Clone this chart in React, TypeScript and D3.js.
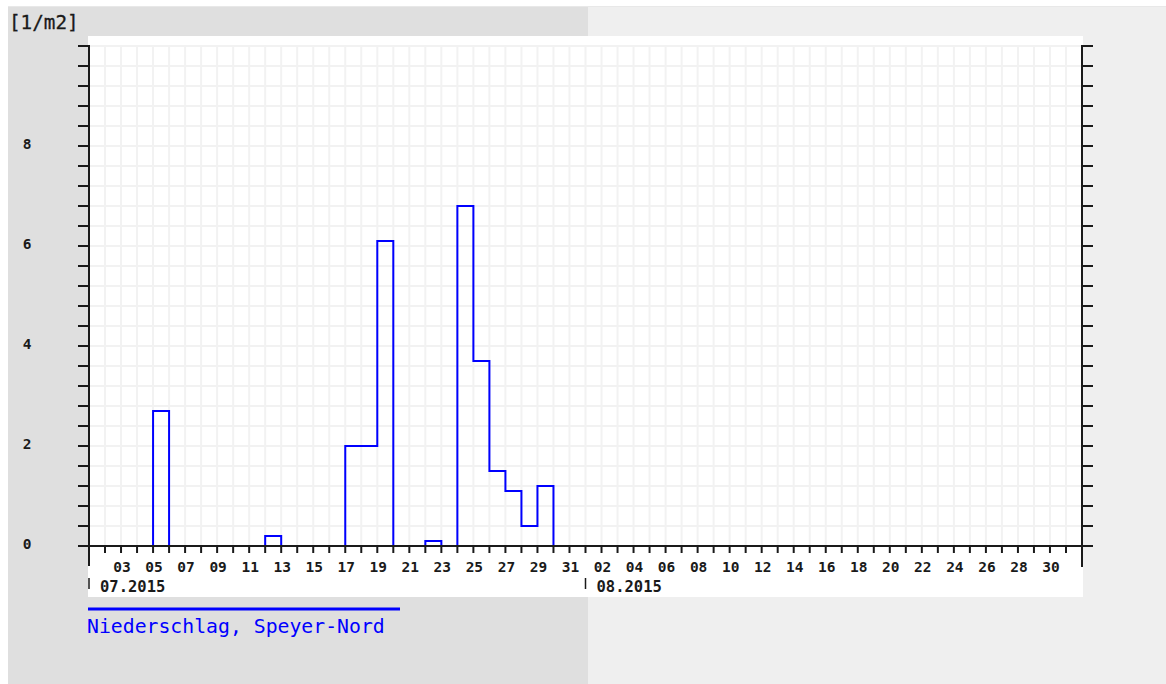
import React from "react";
import * as d3 from "d3";

const startDate = "2015-07-01";
const endDate = "2015-09-01";
const dataStart = "2015-07-01";
const rainValues = [
  0, 0, 0, 0, 2.7, 0, 0, 0, 0, 0, 0, 0.2, 0, 0, 0, 0,
  2.0, 2.0, 6.1, 0, 0, 0.1, 0, 6.8, 3.7, 1.5, 1.1, 0.4, 1.2, 0, 0,
  0, 0, 0,
];
const yLabelValues = [0, 2, 4, 6, 8];
const monthLabels = [
  { date: "2015-07-01", label: "07.2015" },
  { date: "2015-08-01", label: "08.2015" },
];
const unitLabel = "[1/m2]";
const seriesLabel = "Niederschlag, Speyer-Nord";

const W = 1166;
const H = 684;
const PL = 89, PR = 1082, PT = 46, PB = 546;
const MONO = "'DejaVu Sans Mono', 'Liberation Mono', monospace";
const DAY = 86400000;

export default function App() {
  const x = d3.scaleUtc().domain([new Date(startDate), new Date(endDate)]).range([PL, PR]);
  const y = d3.scaleLinear().domain([0, 10]).range([PB, PT]);

  const days = d3.utcDay.range(new Date(startDate), new Date(endDate));
  const allDays = d3.utcDay.range(new Date(startDate), d3.utcDay.offset(new Date(endDate), 1));
  const yTicks = d3.range(0, 25.5, 1).map((i) => i * 0.4);

  const d0 = new Date(dataStart).getTime();
  const pts: [number, number][] = rainValues.map((v, i) => [x(new Date(d0 + i * DAY)), y(v)]);
  pts.push([x(new Date(d0 + rainValues.length * DAY)), y(rainValues[rainValues.length - 1])]);
  const path = d3.line().curve(d3.curveStepAfter)(pts) || "";

  const labelDays = days.filter((d) => {
    const m = d.getUTCMonth();
    const dd = d.getUTCDate();
    if (m === 6) return dd % 2 === 1 && dd > 1;
    return dd % 2 === 0;
  });

  return (
    <svg width={W} height={H} style={{ position: "absolute", left: 0, top: 0 }}>
      <rect x={0} y={0} width={W} height={H} fill="#ffffff" />
      <rect x={8} y={6} width={W - 8} height={H - 6} fill="#e8e8e8" />
      <rect x={8} y={7} width={580} height={H - 7} fill="#dfdfdf" />
      <rect x={588} y={7} width={W - 588} height={H - 7} fill="#efefef" />
      <rect x={88} y={36} width={995} height={561} fill="#ffffff" />

      {/* grid */}
      <g stroke="#f2f2f2" strokeWidth={2}>
        {allDays.slice(1, -1).map((d, i) => (
          <line key={"gv" + i} x1={x(d)} x2={x(d)} y1={PT} y2={PB} />
        ))}
        {yTicks.slice(1).map((t, i) => (
          <line key={"gh" + i} x1={PL} x2={PR} y1={y(t)} y2={y(t)} />
        ))}
      </g>

      {/* data */}
      <path d={path} fill="none" stroke="#0000ff" strokeWidth={2} />

      {/* axes */}
      <g stroke="#1a1a1a" strokeWidth={2}>
        <line x1={PL} x2={PL} y1={PT - 1} y2={566} />
        <line x1={PR} x2={PR} y1={PT - 1} y2={567} />
        <line x1={PL} x2={PR} y1={PB} y2={PB} />
        {yTicks.map((t, i) => (
          <line key={"tl" + i} x1={78} x2={PL} y1={y(t)} y2={y(t)} />
        ))}
        {yTicks.map((t, i) => (
          <line key={"tr" + i} x1={PR} x2={1093} y1={y(t)} y2={y(t)} />
        ))}
        {days.slice(1).map((d, i) => (
          <line key={"tx" + i} x1={x(d)} x2={x(d)} y1={PB} y2={553} />
        ))}
        {monthLabels.map((m, i) => (
          <line key={"mb" + i} x1={x(new Date(m.date))} x2={x(new Date(m.date))} y1={578} y2={589} strokeWidth={1.5} />
        ))}
      </g>

      {/* labels */}
      <g fontFamily={MONO} fontWeight="bold" fontSize={14.5} fill="#1a1a1a">
        {yLabelValues.map((v) => (
          <text key={"yl" + v} x={27} y={y(v) + 3} textAnchor="middle">{v}</text>
        ))}
        {labelDays.map((d, i) => (
          <text key={"xl" + i} x={x(d) + 1} y={572} textAnchor="middle">
            {d3.utcFormat("%d")(d)}
          </text>
        ))}
        {monthLabels.map((m, i) => (
          <text key={"ml" + i} x={x(new Date(m.date)) + 11} y={592} fontSize={15.5}>{m.label}</text>
        ))}
      </g>
      <text x={9} y={29} fontFamily={MONO} fontSize={19.3} fill="#1a1a1a" stroke="#1a1a1a" strokeWidth={0.3}>{unitLabel}</text>

      {/* legend */}
      <line x1={88} x2={400} y1={609} y2={609} stroke="#0000ff" strokeWidth={3} />
      <text x={87} y={633} fontFamily={MONO} fontSize={19.8} fill="#0000ff">{seriesLabel}</text>
    </svg>
  );
}
